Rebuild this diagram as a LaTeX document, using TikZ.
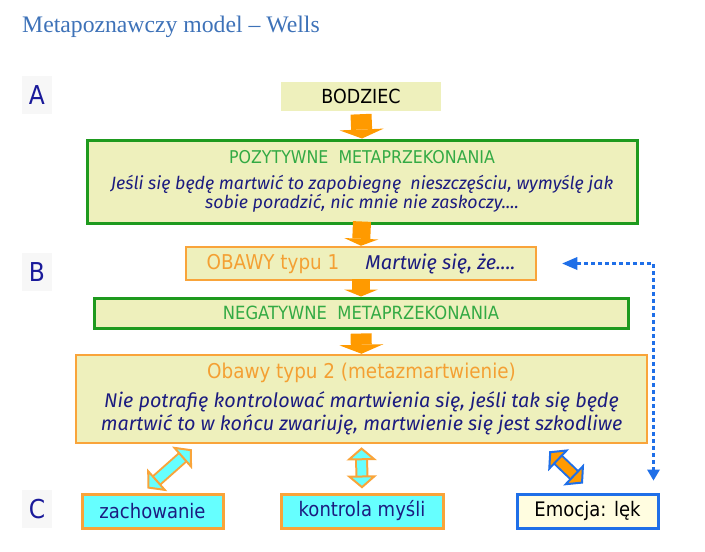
\documentclass[tikz,border=0pt]{standalone}
\usepackage{fontspec}
\setmainfont{Liberation Serif}
\newfontfamily\boxfont[FakeStretch=0.9]{DejaVu Sans}
\newfontfamily\handfont{Fira Sans}
\usetikzlibrary{arrows.meta,calc}

\definecolor{boxyellow}{HTML}{EEF0BC}
\definecolor{framegreen}{HTML}{1E9A1E}
\definecolor{textgreen}{HTML}{33AA44}
\definecolor{frameorange}{HTML}{F9A43A}
\definecolor{arroworange}{HTML}{FF9A00}
\definecolor{textorange}{HTML}{F4A033}
\definecolor{navy}{HTML}{1C1C80}
\definecolor{lettercol}{HTML}{1A1A9A}
\definecolor{cyanfill}{HTML}{66FFFF}
\definecolor{frameblue}{HTML}{1F6FE8}
\definecolor{titleblue}{HTML}{3E72B8}

\newcommand\sansat[1]{\boxfont\fontsize{#1}{#1}\selectfont}
\newcommand\handat[1]{\handfont\itshape\fontsize{#1}{#1}\selectfont\color{navy}}

\begin{document}
\begin{tikzpicture}[x=1pt,y=-1pt,
    greenbox/.style={draw=framegreen, line width=3pt, fill=boxyellow, inner sep=0pt,
        align=center, text=textgreen, font=\sansat{17.6}},
    orangebox/.style={draw=frameorange, line width=2.5pt, fill=boxyellow, inner sep=0pt,
        align=center, text=textorange, font=\sansat{20.4}},
    smallbox/.style={draw=frameorange, line width=3pt, fill=cyanfill, text=navy,
        minimum width=141pt, minimum height=34pt, inner sep=0pt, font=\sansat{20}},
    rowlabel/.style={fill=black!3, text=lettercol, minimum width=30pt, minimum height=38pt,
        inner sep=0pt, font=\sansat{26}},
    flow/.style={arroworange, line width=21pt, -{Triangle[width=44pt,length=9pt,line width=0pt]}},
    thinflow/.style={flow, line width=18pt, -{Triangle[width=34pt,length=7pt,line width=0pt]}},
    linkarrow/.style={double=cyanfill, draw=frameorange, line width=2pt, double distance=9pt,
        {Triangle[width=30pt,length=13pt,line width=2pt,fill=cyanfill]}-{Triangle[width=30pt,length=13pt,line width=2pt,fill=cyanfill]}},
    dotlink/.style={frameblue, line width=3.5pt, dash pattern=on 3.5pt off 3.5pt,
        {Triangle[width=13pt,length=15pt,line width=0pt]}-{Triangle[width=13pt,length=11pt,line width=0pt]}}]
    \useasboundingbox (0,0) rectangle (705,552);

    % Title
    \node[anchor=base west, inner sep=0pt, text=titleblue, font=\fontsize{23.7}{26}\selectfont]
        (title) at (22,32) {Metapoznawczy model -- Wells};

    % Row letters
    \foreach \l/\y in {A/95,B/272,C/509} {
        \node[rowlabel] (row\l) at (37,\y) {\l};
    }

    % Boxes of the chain
    \node[fill=boxyellow, minimum width=160pt, minimum height=29pt, inner sep=0pt,
        font=\sansat{19.4}] (bodziec) at (361,96.5) {BODZIEC};
    \node[greenbox, minimum width=550pt, minimum height=83pt] (poz) at (362,181.5)
        {POZYTYWNE\ \ METAPRZEKONANIA\\[8pt]
         \handat{17.8}Jeśli się będę martwić to zapobiegnę\ \ nieszczęściu, wymyślę jak\\
         \handat{17.8}sobie poradzić, nic mnie nie zaskoczy....};
    \node[orangebox, minimum width=350pt, minimum height=33pt] (obawy1) at (361,263.5)
        {OBAWY typu 1\hspace{26pt}{\handat{20}Martwię się, że....}};
    \node[greenbox, font=\sansat{18.2}, minimum width=534pt, minimum height=30pt] (neg) at (361,313)
        {NEGATYWNE\ \ METAPRZEKONANIA};
    \node[orangebox, minimum width=571pt, minimum height=88pt] (obawy2) at (361.5,399)
        {Obawy typu 2 (metazmartwienie)\\[9pt]
         \handat{19.8}Nie potrafię kontrolować martwienia się, jeśli tak się będę\\[3pt]
         \handat{19.8}martwić to w końcu zwariuję, martwienie się jest szkodliwe};

    % Boxes of row C
    \node[smallbox] (zach) at (152.5,511) {zachowanie};
    \node[smallbox, minimum width=162pt] (kontr) at (362,511) {kontrola myśli};
    \node[smallbox, draw=frameblue, fill=yellow!12, text=black] (emoc) at (587.5,511) {Emocja: lęk};

    % Arrows down the chain
    \draw[flow] ([yshift=-3pt]bodziec.south) -- (poz.north);
    \draw[thinflow] ([yshift=3pt]poz.south) -- (obawy1.north);
    \draw[thinflow] ([yshift=2pt]obawy1.south) -- (neg.north);
    \draw[flow] ([yshift=-4pt]neg.south) -- (obawy2.north);

    % Arrows to row C
    \draw[linkarrow] ([shift={(-5,-4)}]zach.north) -- ([shift={(117,5)}]obawy2.south west);
    \draw[linkarrow] ([yshift=-3pt]obawy2.south) -- ([yshift=4pt]kontr.north);
    \draw[linkarrow, double=arroworange, draw=frameblue,
        {Triangle[width=30pt,length=13pt,line width=2pt,fill=arroworange]}-{Triangle[width=30pt,length=13pt,line width=2pt,fill=arroworange]}]
        ([shift={(-99,7)}]obawy2.south east) -- ([shift={(-4.5,-9)}]emoc.north);

    % Feedback from the emotion
    \draw[dotlink] ([xshift=25pt]obawy1.east) -| ([shift={(-6,-12)}]emoc.north east);
\end{tikzpicture}
\end{document}
